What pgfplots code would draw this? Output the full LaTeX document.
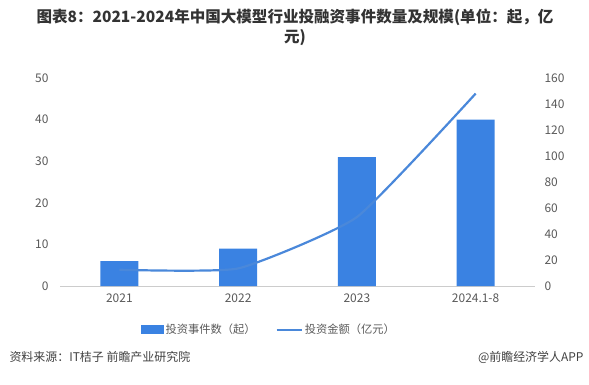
\documentclass[border=0pt]{standalone}
\usepackage{fontspec}
\setmainfont{Noto Sans CJK SC}
\usepackage{pgfplots}
\pgfplotsset{compat=1.18}
\definecolor{barblue}{HTML}{3A82E2}
\definecolor{lineblue}{HTML}{4A88DA}
\definecolor{tickgray}{HTML}{595959}
\definecolor{titlegray}{HTML}{333333}
\begin{document}
\begin{tikzpicture}[x=1bp,y=1bp]
\path[use as bounding box] (0,0) rectangle (589,384);
\node[font=\fontsize{15.6}{18}\selectfont\bfseries, text=titlegray] at (295,367) {图表8：2021-2024年中国大模型行业投融资事件数量及规模(单位：起，亿};
\node[font=\fontsize{15.6}{18}\selectfont\bfseries, text=titlegray] at (295,346) {元)};
\begin{axis}[
  at={(60bp,98bp)}, anchor=south west,
  scale only axis, width=475bp, height=208bp,
  xmin=-0.5, xmax=3.5, ymin=0, ymax=50,
  axis x line*=bottom, axis y line*=left,
  y axis line style={draw=none},
  x axis line style={draw=black!20, line width=0.8bp, -},
  major tick length=0,
  ytick={0,10,...,50},
  xtick={0,1,2,3}, xticklabels={2021,2022,2023,2024.1-8},
  /pgf/number format/assume math mode=true,
  ticklabel style={font=\fontsize{12}{14}\selectfont, text=tickgray},
  yticklabel style={xshift=-8bp},
  xticklabel style={yshift=-4bp},
  clip=false,
]
\addplot[ybar, bar width=38bp, fill=barblue, draw=none] coordinates {(0,6) (1,9) (2,31) (3,40)};
\end{axis}
\begin{axis}[
  at={(60bp,98bp)}, anchor=south west,
  scale only axis, width=475bp, height=208bp,
  xmin=-0.5, xmax=3.5, ymin=0, ymax=160,
  axis y line*=right, axis x line=none,
  y axis line style={draw=none},
  major tick length=0,
  ytick={0,20,...,160},
  /pgf/number format/assume math mode=true,
  ticklabel style={font=\fontsize{12}{14}\selectfont, text=tickgray},
  yticklabel style={xshift=6bp},
  clip=false,
  legend style={at={(0.44,-0.21)}, anchor=center, draw=none, fill=none,
    legend columns=2, font=\fontsize{11.3}{14}\selectfont, text=tickgray,
    /tikz/every even column/.append style={column sep=18bp}},
]
\addlegendimage{legend image code/.code={\fill[barblue] (0bp,-4bp) rectangle (22bp,4bp);}}
\addlegendentry{投资事件数（起）}
\addplot[lineblue, line width=2.2bp, smooth, tension=0.28,
  legend image code/.code={\draw[lineblue, line width=2.2bp] (0bp,0bp) -- (25bp,0bp);}]
  coordinates {(0,12.5) (1,13.5) (2,53) (3,148)};
\addlegendentry{投资金额（亿元）}
\end{axis}
\node[anchor=west, font=\fontsize{12}{14}\selectfont, text=black!75] at (6,27) {资料来源：IT桔子 前瞻产业研究院};
\node[anchor=east, font=\fontsize{12}{14}\selectfont, text=black!75] at (587,27) {@前瞻经济学人APP};
\end{tikzpicture}
\end{document}
